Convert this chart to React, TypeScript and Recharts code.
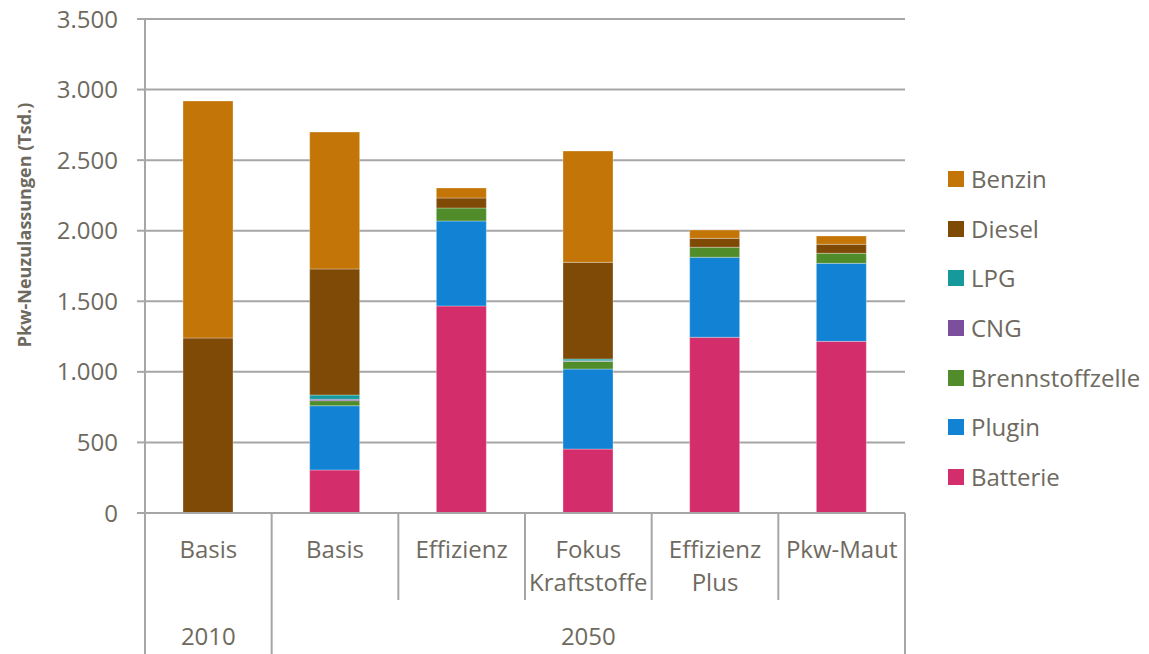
import { BarChart, Bar, XAxis, YAxis, CartesianGrid, Legend } from "recharts";

// scenario labels (line 1 / line 2) and the year group they belong to
const SCENARIOS = ["Basis", "Basis", "Effizienz", "Fokus", "Effizienz", "Pkw-Maut"];
const SCENARIOS_LINE2 = ["", "", "", "Kraftstoffe", "Plus", ""];
const YEARS = ["2010", "2050"];

// values in Tsd., bottom-up stack order
const BATTERIE = [0, 305, 1467, 453, 1245, 1216];
const PLUGIN = [0, 455, 602, 567, 567, 553];
const BRENNSTOFFZELLE = [0, 36, 92, 55, 71, 71];
const CNG = [0, 10, 0, 3, 0, 0];
const LPG = [0, 30, 0, 13, 0, 0];
const DIESEL = [1240, 893, 71, 685, 63, 64];
const BENZIN = [1679, 970, 71, 789, 59, 59];

const Y_TICKS = [0, 500, 1000, 1500, 2000, 2500, 3000, 3500];

const SERIES = [
  { key: "Batterie", values: BATTERIE, color: "#D32E6B" },
  { key: "Plugin", values: PLUGIN, color: "#1283D4" },
  { key: "Brennstoffzelle", values: BRENNSTOFFZELLE, color: "#518C2B" },
  { key: "CNG", values: CNG, color: "#7B4F9E" },
  { key: "LPG", values: LPG, color: "#16999B" },
  { key: "Diesel", values: DIESEL, color: "#7F4A06" },
  { key: "Benzin", values: BENZIN, color: "#C47508" },
];

const data = SCENARIOS.map((name, i) => {
  const row: Record<string, any> = { name: i + ":" + name, label: name, label2: SCENARIOS_LINE2[i] };
  SERIES.forEach((s) => (row[s.key] = s.values[i]));
  return row;
});

const FONT = "'Open Sans', sans-serif";
const TEXT = "#6e6a60";
const LINE = "#a6a6a6";

const fmt = (v: number) => String(v).replace(/\B(?=(\d{3})+(?!\d))/g, ".");

function CategoryTick(props: any) {
  const { x, y, payload, index } = props;
  const half = payload.offset || 63.3;
  const row = data[index];
  const left = x - half;
  const right = x + half;
  // first band belongs to 2010, the rest to 2050
  const longLeft = index === 0 || index === 1;
  return (
    <g>
      <line x1={left} y1={y} x2={left} y2={longLeft ? 654 : y + 87} stroke={LINE} strokeWidth={2} />
      {index === data.length - 1 && (
        <line x1={right} y1={y} x2={right} y2={654} stroke={LINE} strokeWidth={2} />
      )}
      <text x={x} y={y + 45} textAnchor="middle" fontSize={24} fontFamily={FONT} fill={TEXT}>
        {row.label}
      </text>
      {row.label2 && (
        <text x={x} y={y + 78} textAnchor="middle" fontSize={24} fontFamily={FONT} fill={TEXT}>
          {row.label2}
        </text>
      )}
      {index === 0 && (
        <text x={x} y={y + 132} textAnchor="middle" fontSize={24} fontFamily={FONT} fill={TEXT}>
          {YEARS[0]}
        </text>
      )}
      {index === 3 && (
        <text x={x} y={y + 132} textAnchor="middle" fontSize={24} fontFamily={FONT} fill={TEXT}>
          {YEARS[1]}
        </text>
      )}
    </g>
  );
}

function LegendBox() {
  const items = [...SERIES].reverse();
  return (
    <div style={{ fontFamily: FONT }}>
      {items.map((s) => (
        <div key={s.key} style={{ display: "flex", alignItems: "center", height: 49.7 }}>
          <span style={{ width: 16, height: 16, background: s.color, display: "inline-block" }} />
          <span style={{ marginLeft: 7, fontSize: 24, color: TEXT, lineHeight: "24px" }}>{s.key}</span>
        </div>
      ))}
    </div>
  );
}

export default function App() {
  return (
    <div style={{ position: "absolute", left: 0, top: 0, background: "#fff" }}>
      <BarChart
        width={1149}
        height={654}
        data={data}
        // the vertical legend reserves its 200px width on the right
        margin={{ top: 19, right: 44, left: 0, bottom: 0 }}
        barSize={50}
      >
        <CartesianGrid horizontal vertical={false} stroke={LINE} strokeWidth={2} />
        <XAxis
          dataKey="name"
          height={141}
          axisLine={{ stroke: LINE, strokeWidth: 2 }}
          tickLine={false}
          tickSize={0}
          tickMargin={0}
          interval={0}
          tick={<CategoryTick />}
        />
        <YAxis
          width={145}
          domain={[0, 3500]}
          ticks={Y_TICKS}
          tickFormatter={fmt}
          axisLine={{ stroke: LINE, strokeWidth: 2 }}
          tickLine={{ stroke: LINE, strokeWidth: 2 }}
          tickSize={8}
          tickMargin={19}
          tick={{ fontSize: 24, fontFamily: FONT, fill: TEXT }}
          label={{
            content: () => (
              <text
                x={31}
                y={225}
                transform="rotate(-90 31 225)"
                textAnchor="middle"
                fontSize={18}
                fontWeight="bold"
                fontFamily={FONT}
                fill={TEXT}
              >
                Pkw-Neuzulassungen (Tsd.)
              </text>
            ),
          }}
        />
        <Legend
          layout="vertical"
          align="right"
          verticalAlign="top"
          content={<LegendBox />}
          wrapperStyle={{ left: 948, top: 154, width: 200 }}
        />
        {SERIES.map((s) => (
          <Bar
            key={s.key}
            dataKey={s.key}
            stackId="a"
            fill={s.color}
            stroke="rgba(255,255,255,0.3)"
            strokeWidth={1}
            isAnimationActive={false}
          />
        ))}
      </BarChart>
    </div>
  );
}
